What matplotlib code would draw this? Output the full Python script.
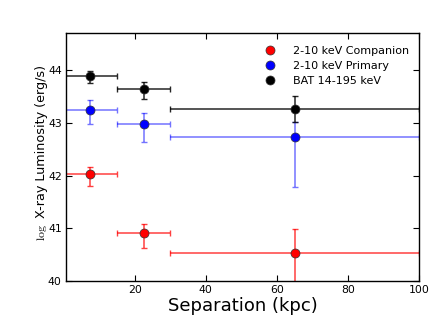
import matplotlib
matplotlib.use('Agg')
import matplotlib.pyplot as plt
import numpy as np

plt.rcParams['mathtext.fontset'] = 'cm'

# separation bins (kpc)
sep = [7.5, 22.5, 65.0]
sep_err = [7.5, 7.5, 35.0]

# log X-ray luminosities with asymmetric errors (lower, upper)
comp = [42.02, 40.91, 40.54]
comp_lo = [0.22, 0.29, 0.60]
comp_hi = [0.15, 0.18, 0.44]

prim = [43.25, 42.98, 42.73]
prim_lo = [0.28, 0.35, 0.95]
prim_hi = [0.19, 0.20, 0.28]

bat = [43.89, 43.64, 43.26]
bat_lo = [0.13, 0.19, 0.25]
bat_hi = [0.10, 0.13, 0.25]

labels = ['2-10 keV Companion', '2-10 keV Primary', 'BAT 14-195 keV']

fig = plt.figure(figsize=(4.42, 3.31), dpi=100)
ax = fig.add_axes([0.149, 0.151, 0.799, 0.749])

series = [(comp, comp_lo, comp_hi, 'r', 0.75),
          (prim, prim_lo, prim_hi, 'b', 0.55),
          (bat, bat_lo, bat_hi, 'k', 0.85)]

handles = []
for (y, lo, hi, col, a), lab in zip(series, labels):
    ax.errorbar(sep, y, xerr=sep_err, yerr=[lo, hi], fmt='none',
                ecolor=col, alpha=a, elinewidth=1.1, capsize=2.5, capthick=1)
    h, = ax.plot(sep, y, 'o', color=col, markersize=6.5,
                 markeredgecolor='#333333', markeredgewidth=0.5, label=lab)
    handles.append(h)

ax.set_xlim(0.6, 100)
ax.set_ylim(40, 44.7)
ax.set_xticks([20, 40, 60, 80, 100])
ax.set_yticks([40, 41, 42, 43, 44])
ax.tick_params(direction='in', top=True, right=True, labelsize=7.8, length=4, pad=3)
for s in ax.spines.values():
    s.set_linewidth(1)

ax.set_xlabel('Separation (kpc)', fontsize=13, labelpad=1)
# y label: small serif "log" followed by the main text
ax.text(-0.06, 0.255, 'X-ray Luminosity (erg/s)', rotation=90, rotation_mode='anchor',
        ha='left', va='baseline', fontsize=9.2, transform=ax.transAxes)
ax.text(-0.058, 0.16, r'$\mathrm{log}$', rotation=90, rotation_mode='anchor',
        ha='left', va='baseline', fontsize=8.5, transform=ax.transAxes)

ax.legend(handles=handles, loc='upper right', frameon=False, numpoints=1,
          fontsize=8, handletextpad=1.1, labelspacing=0.45,
          bbox_to_anchor=(1.0, 0.99))

fig.savefig('out.png', dpi=100)
